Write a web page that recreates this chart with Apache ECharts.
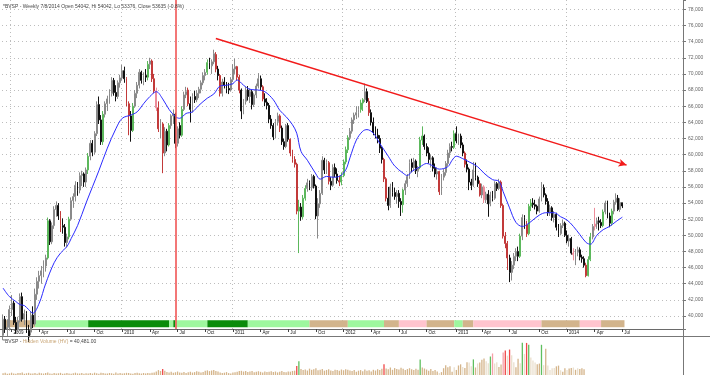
<!DOCTYPE html>
<html><head><meta charset="utf-8">
<script src="https://cdn.jsdelivr.net/npm/echarts@6/dist/echarts.min.js"></script>
<style>html,body{margin:0;padding:0;background:#fff;}#c{width:710px;height:375px;}</style>
</head><body><div id="c"></div>
<script>
// ---- axis / category definition ----
const firstWeek = '2008-12-08';   // Monday of the first weekly bar
const weekSlots = 320;            // weekly slots on the time axis (data + empty space on the right)
const monthNames = ['Jan','Feb','Mar','Apr','May','Jun','Jul','Aug','Sep','Oct','Nov','Dec'];

// ---- weekly OHLC (*BVSP) ----
const opens = [
37600,39600,38400,38600,40800,41600,39200,38300,39400,42400,
39600,40300,38200,38000,40100,39000,42700,44300,45000,45600,
46200,47200,51800,49200,51200,53200,53700,52400,51200,51000,
49100,49800,52000,54300,54800,56200,55600,57400,57600,56600,
58100,59800,61400,60300,62600,66200,64300,61600,65000,66300,
66900,67600,69200,67700,67200,68900,69500,70400,69400,66300,
64800,63000,66000,67600,68600,70200,69200,69800,69600,71200,
71600,69400,67900,65800,63200,63800,60200,62900,61200,63600,
64800,65000,61400,63600,62400,65600,67400,68000,66300,65600,
67200,66800,67600,68100,68900,69800,70200,71400,71000,71500,
72400,70600,69800,67600,69000,68600,68200,68000,69300,70600,
70900,69600,68000,65400,66600,68000,67200,67800,66200,67400,
68500,69400,68400,66900,66500,66100,64400,63600,62200,64100,
64800,63300,61600,61000,63600,61900,60200,59400,58800,53000,
53500,52300,54600,55800,56500,55900,57300,56100,52400,53900,
55200,59300,58100,59000,56700,56200,58400,57600,56800,56600,
57400,59100,60600,62100,62900,64300,64900,65200,65600,66400,
66800,67800,66600,65200,64000,62800,62400,62000,60800,59400,
57000,54600,53700,56000,55300,54800,55200,54200,53800,55600,
56400,57300,59000,58400,59200,58000,58400,61800,62300,61000,
60200,59400,59600,58300,57600,57900,55400,57200,57800,58900,
60200,61000,60900,62600,61700,62300,61200,60200,58800,58200,
56600,56200,58100,57200,56400,55000,56000,54400,55100,53900,
55000,54600,56400,55800,56600,53700,49900,49000,47200,45400,
46300,47400,48000,47400,49900,52200,51300,50200,53600,54000,
53800,53600,53000,54500,55900,55000,54200,52800,53400,52200,
52600,51000,50200,51200,51500,50000,49300,49600,47800,47600,
47900,48200,47300,47100,46300,45000,47000,49800,51100,51400,
51800,51600,51200,52900,54000,52400,51500,53000,54100,54600,
53200,54042];
const highs = [
40200,40000,39600,41300,42600,41900,39900,39900,42800,42900,
40800,40600,38900,40500,41200,43400,44800,45600,46200,46900,
47600,52200,52000,51600,53600,54200,54000,53000,52100,51400,
50200,52300,54700,55200,56700,56600,57800,58000,57800,58400,
60200,61800,61800,62900,66600,67200,64900,65400,66600,67300,
68100,69600,69500,68600,69200,69900,71100,70900,69600,66600,
65400,66400,68000,69000,70600,70400,70200,70600,71600,72000,
71800,70000,68300,66600,64400,64000,63400,63200,63900,65000,
65600,65200,63500,64000,66000,67800,68400,68300,67200,67600,
67900,68000,68400,69200,70200,70600,71800,72000,71800,73000,
72700,71000,70000,69400,69600,69000,68900,69600,71200,71900,
71000,69900,68200,66900,68400,68500,68200,68000,67600,68800,
70100,69800,68600,67600,67000,66400,64900,63900,64400,65200,
65000,63600,62000,63800,63900,62000,60600,59800,59000,54400,
54000,55000,56200,57000,56800,57600,57500,56300,54600,55600,
59800,59600,59400,59200,57200,58800,58900,58300,57400,57800,
59400,61000,62400,63300,64600,65200,66000,66000,66800,67000,
68800,68200,67000,65600,64600,63500,63200,62400,61000,59600,
57200,56000,56400,56600,55900,55600,55600,54600,55800,56800,
57600,59400,59500,59600,59400,58600,62200,63500,62500,61400,
60900,60000,59800,58900,58400,58000,57600,58200,59200,60600,
61400,61600,63000,63500,62600,62600,61500,60400,59400,58400,
57000,59100,59000,57400,56800,56400,56200,55400,55600,55400,
55500,56700,56600,57000,56800,53900,50400,49300,47600,46800,
47800,48400,48600,50200,52600,52500,51800,53900,54500,54600,
54400,53800,54800,56600,56300,55200,54600,53800,53600,53000,
52800,51400,51500,51900,51700,50600,50100,49800,48400,48300,
48600,48500,47600,47400,46600,47400,50300,51400,53400,52200,
52300,52000,53200,54300,54300,52800,53300,54400,55200,55000,
54600,54042];
const lows = [
37000,37900,37500,38200,40000,38900,37800,38000,39200,39300,
38900,37900,36800,37600,38500,38800,42000,43400,44000,44800,
45500,47000,48800,48900,50800,52300,51900,50400,50200,48600,
48500,49500,51800,53400,54200,54900,55200,56100,56000,56000,
57600,59300,59800,60000,62300,63800,61200,61200,64600,65400,
66300,67200,67300,66600,66900,68300,69200,68900,66000,62400,
61600,62800,65800,67000,68200,68800,68600,69000,69200,70600,
69000,67600,65400,62800,62000,57700,59800,60400,61000,63200,
63800,60800,61000,62000,62200,65400,67000,66000,64000,65200,
66400,66500,67000,67600,68600,69200,69900,70600,70000,71200,
70200,69200,67200,67200,68200,67600,67500,67800,69000,70000,
69200,67600,64400,65000,66200,66700,66400,65600,65900,67000,
68200,68000,66600,66000,65600,63900,63200,61800,62000,63600,
62800,61200,60600,60800,61600,59800,59000,58400,52600,47800,
51800,52000,54300,55400,55600,55500,55800,52000,49600,53400,
55000,57600,57600,56300,55600,56000,57200,56400,56100,56200,
57200,58800,60200,61800,62600,63800,64400,64600,65200,65400,
66500,66400,64800,63600,62400,62000,61400,60200,58900,56600,
54200,53100,53400,54800,54400,53900,53400,52400,52800,55000,
56000,57000,57800,58000,57600,57200,58200,61200,60600,59800,
58900,58400,57900,57200,56900,55000,55000,56800,57400,58600,
59600,60400,60700,61400,61200,60800,59800,58400,57800,55600,
55600,56000,56800,56000,54800,54600,54000,54000,52300,53600,
54200,54400,55500,55600,53400,49600,48400,45700,44200,44400,
45800,46800,46800,47200,49400,50800,49800,50000,53000,53400,
53200,52600,52800,54200,54700,53800,52400,52400,51800,51600,
50600,49800,50000,50900,49800,49000,48600,47600,46900,46300,
47400,46900,46600,46000,44800,44900,46800,49500,50600,50800,
50600,50900,51000,52600,52100,51000,51200,52600,53800,53000,
52900,53376];
const closes = [
39600,38400,38600,40800,41600,39200,38300,39400,42400,39600,
40300,38200,37400,40100,39000,42700,44300,45000,45600,46200,
47200,51800,49200,51200,53200,53700,52400,51200,51000,49100,
49800,52000,54300,54800,56200,55600,57400,57600,56600,58100,
59800,61400,60300,62600,66200,64300,61600,65000,66300,66900,
67600,69200,67700,67200,68900,69500,70400,69400,66300,64800,
63000,66000,67600,68600,70200,69200,69800,69600,71200,71600,
69400,67900,65800,63200,63800,60200,62900,61200,63600,64800,
65000,61400,63200,62400,65600,67400,67800,66300,65600,67200,
66800,67600,68100,68900,69800,70200,71400,71000,71500,72500,
70600,69800,67600,69000,68600,68200,68000,69300,70600,70900,
69600,68000,65400,66600,68000,67200,67800,66200,67400,68500,
69400,68400,66900,66500,66100,64400,63600,62200,64100,64800,
63300,61600,61000,63600,61900,60200,59400,58800,53000,53500,
52300,54600,55800,56500,55900,57300,56100,52400,53900,55200,
59300,58100,59000,56700,56200,58400,57600,56800,56600,57400,
59100,60600,62100,62900,64300,64900,65200,65600,66400,66800,
67800,66600,65200,64000,62800,62400,62000,60800,59400,57000,
54600,53700,56000,55300,54800,55200,54200,53800,55600,56400,
57300,59000,58400,59200,58000,58400,61800,62300,61000,60200,
59400,59600,58300,57600,57900,55400,57200,57800,58900,60200,
61000,60900,62600,61700,62300,61200,60200,58800,58200,56600,
56200,58100,57200,56400,55000,56000,54400,55100,53900,55000,
54600,56400,55800,56600,53700,49900,49000,47200,45400,46300,
47400,48000,47400,49900,52200,51300,50200,53600,54000,53800,
53600,53000,54500,55900,55000,54200,52800,53400,52200,52600,
51000,50200,51200,51500,50000,49300,49600,47800,47600,47900,
48200,47300,47100,46300,45000,47000,49800,51100,51400,51800,
51600,51200,52900,54000,52400,51500,53000,54100,54600,53200,
54067,53635];
// weeks whose candle is tinted by the Hidden Volume study
const greenWeeks = [21,31,40,47,61,68,78,84,96,139,141,142,159,160,161,162,168,169,188,196,197,212,243,247,248,275,276,282,286];
const redWeeks = [27,58,59,70,71,73,75,87,100,102,110,111,122,130,135,136,137,138,153,158,172,179,180,205,217,224,234,235,236,237,246,274];
const pinkWeeks = [72,226,268,278];

// ---- moving average (week index, value) ----
const maWeeks = [0,3,6,8,10,12,14,17,20,24,27,30,32,35,39,42,45,49,53,56,60,63,66,69,72,75,78,81,83,86,89,92,96,99,102,105,108,110,113,116,120,123,127,130,133,136,138,140,143,147,149,152,155,158,161,163,166,169,171,174,177,181,184,188,190,192,196,199,202,205,209,211,213,216,219,223,226,230,233,235,238,241,244,246,249,252,255,259,262,265,268,271,274,276,279,282,285,288,291];
const maValues = [43460,42400,41800,41400,41300,40800,40350,41600,44000,46600,47800,48600,49600,51200,54000,56000,58000,60800,63200,64500,64900,65300,66300,67200,67800,66900,65600,64700,64500,65100,65300,66100,67000,67500,68500,68600,68800,69250,68600,68100,68000,67800,66800,65500,64700,63700,62650,60400,59300,57600,56960,57300,57200,57300,58100,59600,61800,62900,63100,62650,61400,59800,58600,57700,57400,57900,58500,58900,58600,58200,58500,59300,59800,59500,59100,58500,57700,56900,56700,55400,53400,51600,51100,51300,51900,52500,52800,52800,52300,51900,51100,50100,49100,48900,50000,50700,51100,51700,52250];

// ---- Hidden Volume (HV) ----
const volumes = [
12000,15000,9000,11000,16000,10000,8000,13000,14000,17000,
9000,12000,15000,10000,11000,13000,9000,16000,12000,10000,
14000,18000,11000,9000,13000,10000,12000,15000,8000,11000,
14000,10000,9000,12000,16000,11000,10000,13000,9000,12000,
11000,14000,10000,16000,12000,9000,15000,13000,11000,10000,
14000,12000,9000,17000,11000,13000,10000,12000,15000,14000,
11000,9000,13000,16000,12000,10000,14000,11000,13000,12000,
15000,17000,
24000,34000,28000,41000,30000,
20000,17000,22000,15000,19000,24000,18000,16000,21000,14000,19000,23000,17000,20000,26000,22000,18000,21000,
29000,32000,27000,31000,34000,28000,25000,
18000,14000,16000,20000,13000,11000,17000,19000,
22000,27000,29000,24000,27000,21000,25000,28000,19000,23000,26000,22000,18000,25000,21000,
23000,26000,20000,24000,18000,22000,27000,21000,19000,25000,23000,28000,30000,
62000,96000,
42000,35000,38000,31000,44000,36000,40000,47000,33000,37000,41000,30000,35000,39000,32000,28000,36000,34000,29000,38000,33000,40000,36000,
31000,27000,35000,22000,30000,34000,26000,38000,29000,33000,25000,36000,31000,40000,34000,43000,
74000,
45000,40000,52000,36000,48000,42000,38000,50000,44000,34000,41000,47000,39000,35000,43000,37000,
108000,
52000,45000,38000,30000,42000,27000,35000,24000,
14000,20000,47000,67000,54000,61000,22000,53000,35000,66000,
74000,55000,48000,88000,86000,60000,108000,52000,80000,87000,
106000,114000,95000,82000,128000,149000,79000,89000,56000,73000,
155000,169000,134000,176000,136000,88000,54000,113000,81000,223000,
146000,222000,210000,121000,100000,86000,75000,79000,209000,68000,
182000,66000,34000,46000,49000,60000,65000,33000,22000,47000,
35000,45000,48000,52000,36000,46000,41000,47000,40481];
const volGreen = [139,196,221,229,244,247,253];
const volRed = [75,138,179,236,238,246];
const volPink = [230,235];
const volLight = [205,212,216,219,220,223,227,228,231,232,237,239,240,243,245,248,249,250,254,256,257,258,259,262,265,268,270];

// ---- colour band under the price panel (week ranges) ----
const bandStart = [0,15,40,78,80,81,96,115,144,162,179,186,199,212,216,221,253,271,281];
const bandEnd   = [14,39,77,79,80,95,114,143,161,178,185,198,211,215,220,252,270,280,291];
const bandTone  = ['tan','lg','dg','lg','dg','lg','dg','lg','tan','lg','tan','pink','tan','lg','tan','pink','tan','pink','tan'];
const bandLow = 38610, bandHigh = 39480;

// ---- annotations ----
const markerWeek = 81;
const trendStart = [100, 74400];
const trendEnd = [293, 58700];
const lastClose = 53635;

// ---------- build ----------
const FONT = 'Liberation Sans, Arial, sans-serif';
const cats = [];
const t0 = Date.parse(firstWeek + 'T00:00:00Z');
for (let k = 0; k < weekSlots; k++) cats.push(new Date(t0 + k * 7 * 864e5).toISOString().slice(0, 10));
const lastWeek = closes.length - 1;
const mon = k => +cats[k].slice(5, 7) - 1;
const isQuarterStart = k => k > 0 && k <= lastWeek && mon(k) % 3 === 0 && mon(k) !== mon(k - 1);
const isYearStart = k => k > 0 && k <= lastWeek && mon(k) === 0 && mon(k - 1) === 11;

const gSet = new Set(greenWeeks), rSet = new Set(redWeeks), pSet = new Set(pinkWeeks);
const tone = (fill, border) => ({color: fill, color0: fill, borderColor: border, borderColor0: border});
const candleData = closes.map((c, k) => {
  const item = {value: [opens[k], c, lows[k], highs[k]]};
  if (gSet.has(k)) item.itemStyle = tone('#93e693', '#5cb85c');
  else if (rSet.has(k)) item.itemStyle = tone('#a01010', '#c23a3a');
  else if (pSet.has(k)) item.itemStyle = tone('#f6b3bd', '#ee8c9a');
  return item;
});

const vG = new Set(volGreen), vR = new Set(volRed), vP = new Set(volPink), vL = new Set(volLight);
const volData = volumes.map((v, k) => ({
  value: v,
  itemStyle: {color: vG.has(k) ? '#5fbf5f' : vR.has(k) ? '#f04848' : vP.has(k) ? '#f7a0a8' : vL.has(k) ? '#eadfcd' : '#d4b48a'}
}));

const bandColors = {tan: '#d2b48c', lg: '#9ef79e', dg: '#0a8c0a', pink: '#ffc4ce'};
const bandAreas = bandStart.map((s, j) => [
  {xAxis: cats[s], yAxis: bandLow, itemStyle: {color: bandColors[bandTone[j]], opacity: 1}},
  {xAxis: cats[bandEnd[j] + 1], yAxis: bandHigh}
]);

const gridLine = {show: true, lineStyle: {color: '#bdbdbd', type: [1, 3], width: 1}};

const option = {
  animation: false,
  backgroundColor: '#fff',
  textStyle: {fontFamily: FONT},
  title: [
    {left: 3, top: 4, padding: 0, text: '*BVSP - Weekly 7/8/2014 Open 54042, Hi 54042, Lo 53376, Close 53635 (-0.8%)',
     textStyle: {fontSize: 5, color: '#444', fontWeight: 'normal', fontFamily: FONT}},
    {left: 3, top: 339, padding: 0, text: '{a|*BVSP - }{b|Hidden Volume (HV)}{a| = 40,481.00}',
     textStyle: {fontSize: 5, fontWeight: 'normal', fontFamily: FONT,
       rich: {a: {fontSize: 5, color: '#444', fontFamily: FONT}, b: {fontSize: 5, color: '#c9a677', fontFamily: FONT}}}}
  ],
  grid: [
    {left: 2, top: 0, width: 681, height: 329},
    {left: 2, top: 337, width: 681, height: 38}
  ],
  xAxis: [
    {type: 'category', gridIndex: 0, data: cats, boundaryGap: true,
     axisLine: {show: true, lineStyle: {color: '#6a6a6a', width: 1}},
     axisTick: {show: true, alignWithLabel: true, length: 3, interval: isQuarterStart, lineStyle: {color: '#444'}},
     axisLabel: {show: true, interval: isQuarterStart, align: 'left', margin: 1, padding: [0, 0, 0, 2],
       fontSize: 4.5, color: '#222', fontFamily: FONT,
       formatter: (v) => { const m = +v.slice(5, 7) - 1; return m === 0 ? v.slice(0, 4) : monthNames[m]; }},
     splitLine: {show: true, interval: isYearStart, lineStyle: {color: '#bdbdbd', type: [1, 3], width: 1}}},
    {type: 'category', gridIndex: 1, data: cats, boundaryGap: true, show: false}
  ],
  yAxis: [
    {type: 'value', gridIndex: 0, position: 'right', min: 38390, max: 79160, splitNumber: 20,
     minInterval: 2000, maxInterval: 2000, scale: true,
     axisLine: {show: false},
     axisTick: {show: true, length: 3, lineStyle: {color: '#777'}},
     axisLabel: {show: true, margin: 5, fontSize: 5, color: '#666', fontFamily: FONT,
       formatter: v => (v % 2000 === 0 && v >= 40000 && v <= 78000) ? v.toLocaleString('en-US') : ''},
     splitLine: Object.assign({}, gridLine, {showMinLine: false, showMaxLine: false})},
    {type: 'value', gridIndex: 1, position: 'right', min: 0, max: 263000, show: false, splitLine: {show: false}}
  ],
  graphic: [
    {type: 'line', z: 100, shape: {x1: 0, y1: 336.5, x2: 710, y2: 336.5}, style: {stroke: '#777', lineWidth: 1}},
    {type: 'line', z: 100, shape: {x1: 683.5, y1: 0, x2: 683.5, y2: 375}, style: {stroke: '#777', lineWidth: 1}},
    {type: 'line', z: 100, shape: {x1: 0, y1: 329.5, x2: 3, y2: 329.5}, style: {stroke: '#6a6a6a', lineWidth: 1}}
  ],
  series: [
    {type: 'line', xAxisIndex: 0, yAxisIndex: 0, data: [], z: 1, silent: true,
     markArea: {silent: true, data: bandAreas}},
    {type: 'candlestick', xAxisIndex: 0, yAxisIndex: 0, z: 3, barWidth: 1.4,
     itemStyle: {color: '#e4e4e4', color0: '#111111', borderColor: '#8a8a8a', borderColor0: '#111111', borderWidth: 1},
     data: candleData,
     markLine: {silent: true, symbol: 'none', animation: false,
       data: [
         {xAxis: cats[markerWeek], lineStyle: {color: '#f05555', width: 1.6, type: 'solid'}, label: {show: false}},
         [{coord: [cats[trendStart[0]], trendStart[1]], symbol: 'none', lineStyle: {color: '#f21b1b', width: 1.5, type: 'solid'}, label: {show: false}},
          {coord: [cats[trendEnd[0]], trendEnd[1]], symbol: 'arrow', symbolSize: [6, 8]}],
         {yAxis: lastClose, lineStyle: {opacity: 0}, label: {show: true, position: 'end', distance: 1,
           formatter: lastClose.toLocaleString('en-US'), backgroundColor: '#111', color: '#fff',
           fontSize: 5, padding: [1, 2, 1, 2], fontFamily: FONT}}
       ]}},
    {type: 'line', xAxisIndex: 0, yAxisIndex: 0, z: 4, showSymbol: false, symbol: 'none', smooth: 0.35,
     lineStyle: {color: '#2b2bff', width: 1}, data: maWeeks.map((w, j) => [w, maValues[j]])},
    {type: 'bar', xAxisIndex: 1, yAxisIndex: 1, barWidth: 1.3, data: volData, z: 2}
  ]
};
const chart = echarts.init(document.getElementById('c'), null, {renderer: 'canvas'});
chart.setOption(option);
</script></body></html>
